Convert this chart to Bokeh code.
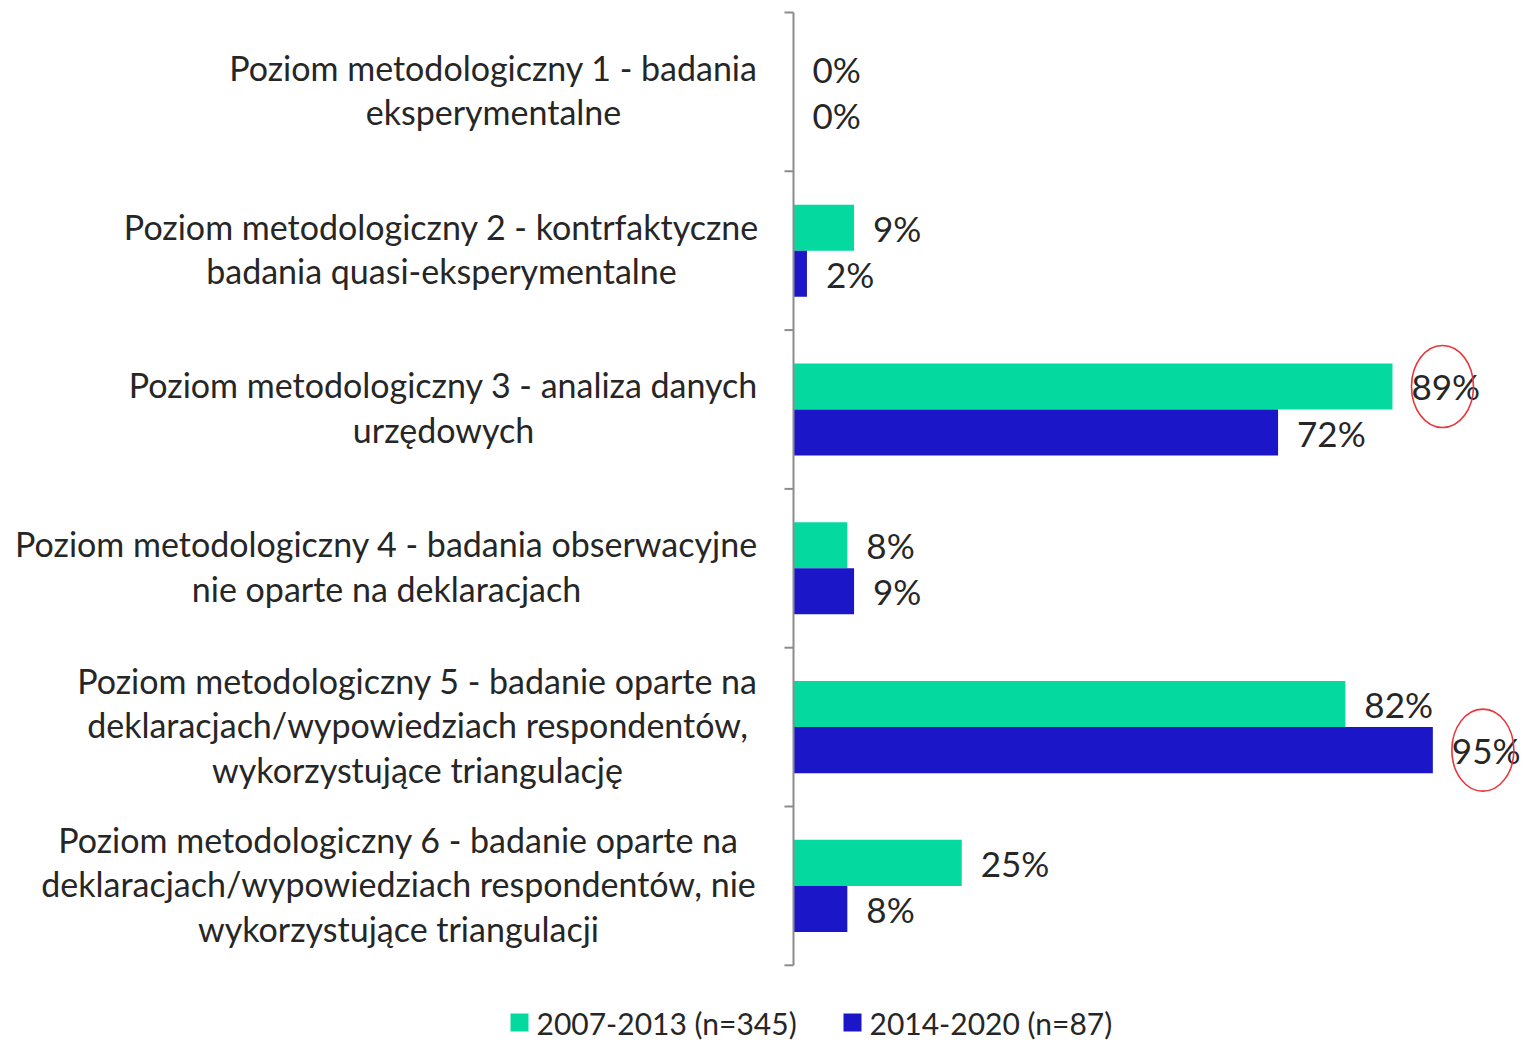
from bokeh.plotting import figure
from bokeh.models import Range1d, ColumnDataSource
from bokeh.core.properties import value
from bokeh.embed import file_html
from bokeh.resources import INLINE

# ---------------- data ----------------
categories = [
    ["Poziom metodologiczny 1 - badania", "eksperymentalne"],
    ["Poziom metodologiczny 2 - kontrfaktyczne", "badania quasi-eksperymentalne"],
    ["Poziom metodologiczny 3 - analiza danych", "urzędowych"],
    ["Poziom metodologiczny 4 - badania obserwacyjne", "nie oparte na deklaracjach"],
    ["Poziom metodologiczny 5 - badanie oparte na",
     "deklaracjach/wypowiedziach respondentów,",
     "wykorzystujące triangulację"],
    ["Poziom metodologiczny 6 - badanie oparte na",
     "deklaracjach/wypowiedziach respondentów, nie",
     "wykorzystujące triangulacji"],
]
values_2007_2013 = [0, 9, 89, 8, 82, 25]
values_2014_2020 = [0, 2, 72, 9, 95, 8]
series_names = ["2007-2013 (n=345)", "2014-2020 (n=87)"]
# highlighted (circled) labels: (category index, series index)
highlighted = [(2, 0), (4, 1)]

# ---------------- layout constants ----------------
W, H = 1522, 1043
PAGE = 0
PX0 = 793          # page x of 0 %
PXPER = 6.73       # px per percent
TOP = 12           # page y of the top of the axis
BAND = 158.8       # px per category band
BAR_H = 0.29       # bar thickness in bands
FONT = value("Lato")
FS_VAL = "35px"
FS_CAT = "34px"
FS_LEG = "30px"
TXT = "#262626"
GREEN = "#04DA9F"
BLUE = "#1B17C9"
colors = [GREEN, BLUE]

def xd(px):   # page px -> data x
    return (px - PX0) / PXPER

def yd(py):   # page py -> data y
    return (py - TOP) / BAND

p = figure(width=W, height=H, output_backend="svg", toolbar_location=None,
           min_border=0, min_border_left=0, min_border_right=0,
           min_border_top=0, min_border_bottom=0)
p.x_range = Range1d(xd(PAGE), xd(PAGE + W))
p.y_range = Range1d(yd(PAGE + H), yd(PAGE))
p.axis.visible = False
p.grid.visible = False
p.outline_line_color = None
p.background_fill_color = "white"
p.border_fill_color = "white"

n = len(categories)
centers = [i + 0.5 for i in range(n)]

# bars
for s, vals in enumerate([values_2007_2013, values_2014_2020]):
    ys = [c + (s - 0.5) * BAR_H for c in centers]
    src = ColumnDataSource(dict(y=ys, right=vals,
                                lab=[f"{v}%" for v in vals]))
    p.hbar(y="y", left=0, right="right", height=BAR_H, source=src,
           fill_color=colors[s], line_color=None)
    p.text(x="right", y="y", text="lab", source=src, x_offset=19,
           text_font=FONT, text_font_size=FS_VAL, text_color=TXT,
           text_baseline="middle", text_align="left")

# axis line and ticks
p.segment(x0=[0], y0=[0], x1=[0], y1=[n], line_color="#8c8c8c", line_width=2)
p.segment(x0=[xd(PX0 - 9)] * (n + 1), y0=list(range(n + 1)),
          x1=[0] * (n + 1), y1=list(range(n + 1)),
          line_color="#8c8c8c", line_width=2)

# category labels (centred lines)
label_cx = [493, 441, 443, 386, 417, 398]
LINE = 44.5 / BAND
xs, ys, ts = [], [], []
for i, lines in enumerate(categories):
    k = len(lines)
    for j, t in enumerate(lines):
        xs.append(xd(label_cx[i]))
        ys.append(centers[i] + (j - (k - 1) / 2) * LINE - 0.015)
        ts.append(t)
p.text(x=xs, y=ys, text=ts, text_font=FONT, text_font_size=FS_CAT,
       text_color=TXT, text_align="center", text_baseline="middle")

# red circles around highlighted labels
allvals = [values_2007_2013, values_2014_2020]
ex, ey = [], []
for ci, si in highlighted:
    v = allvals[si][ci]
    ex.append(v + xd(PX0 + 50))
    ey.append(centers[ci] + (si - 0.5) * BAR_H)
p.ellipse(x=ex, y=ey, width=62, height=82, width_units="screen",
          height_units="screen", fill_color=None, line_color="#E8343A",
          line_width=1.6)

# legend
leg_y = yd(1022)
sq_x = [xd(519), xd(852)]
p.rect(x=sq_x, y=[leg_y] * 2, width=18, height=18, width_units="screen",
       height_units="screen", fill_color=colors, line_color=None)
p.text(x=[xd(536), xd(869)], y=[leg_y] * 2, text=series_names,
       text_font=FONT, text_font_size=FS_LEG, text_color=TXT,
       text_align="left", text_baseline="middle")

open("out.html", "w").write(file_html(p, INLINE))
